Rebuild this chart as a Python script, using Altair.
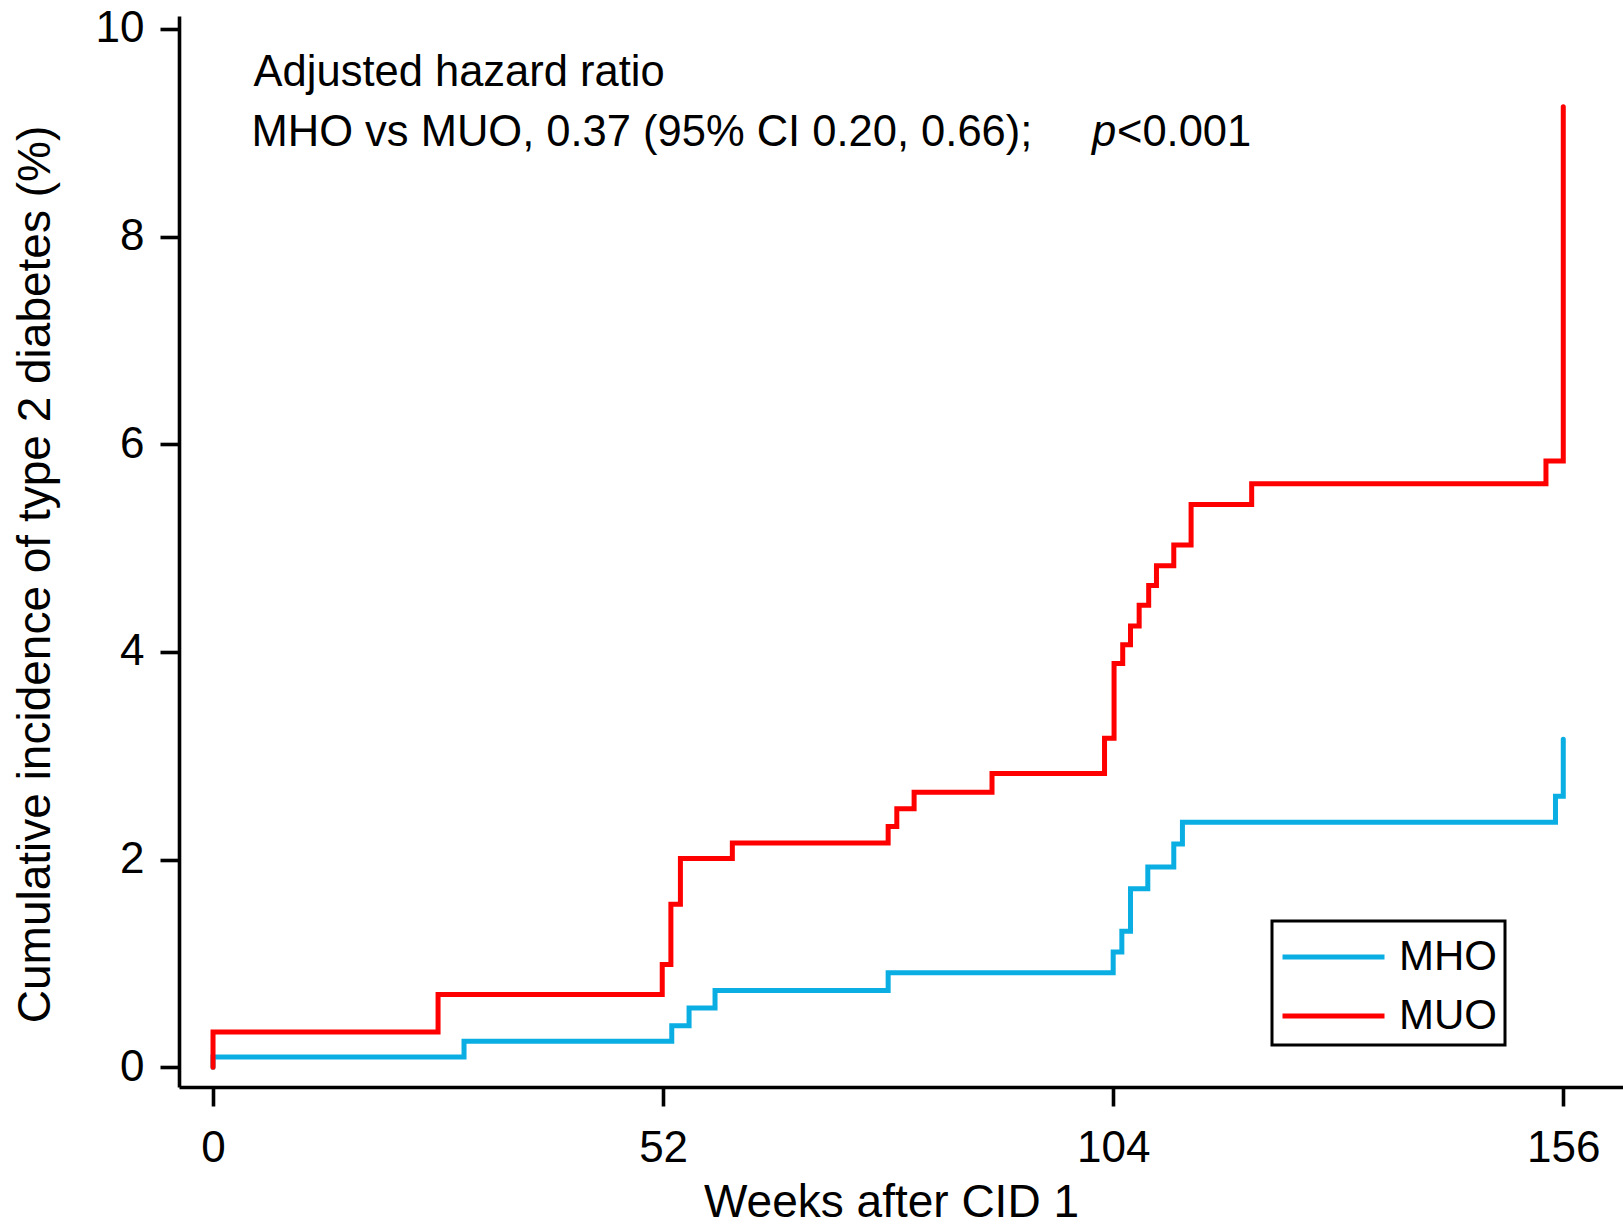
import altair as alt
import pandas as pd

# ---- data ----
groups = ["MHO", "MUO"]
mho_weeks = [0, 0, 29, 53, 55, 58, 78, 104, 105, 106, 108, 111, 112, 155.1, 156]
mho_vals = [0, 0.10, 0.25, 0.40, 0.57, 0.74, 0.91, 1.11, 1.31, 1.72, 1.93, 2.15, 2.36, 2.61, 3.16]
muo_weeks = [0, 0, 26, 51.9, 52.9, 54, 60, 78, 79, 81, 90, 103, 104.1, 105.1, 106, 107,
             108.1, 109, 111, 113, 120, 154, 156]
muo_vals = [0, 0.34, 0.70, 0.99, 1.57, 2.01, 2.16, 2.32, 2.49, 2.65, 2.83, 3.17, 3.89, 4.07,
            4.25, 4.45, 4.64, 4.83, 5.03, 5.42, 5.62, 5.84, 9.25]
x_ticks = [0, 52, 104, 156]
y_ticks = [0, 2, 4, 6, 8, 10]
colors = ["#0AAEE3", "#FF0000"]
x_title = "Weeks after CID 1"
y_title = "Cumulative incidence of type 2 diabetes (%)"
ann_line1 = "Adjusted hazard ratio"
ann_line2 = "MHO vs MUO, 0.37 (95% CI 0.20, 0.66);"
ann_p = "p"
ann_pval = "<0.001"

FONT = "Liberation Sans"

rows = []
for g, ws, vs in [("MHO", mho_weeks, mho_vals), ("MUO", muo_weeks, muo_vals)]:
    for i, (w, v) in enumerate(zip(ws, vs)):
        rows.append({"group": g, "week": w, "value": v, "idx": i})
df = pd.DataFrame(rows)

x_scale = alt.Scale(domain=[-3.93, 162.9], nice=False, zero=False)
y_scale = alt.Scale(domain=[-0.19, 10.125], nice=False, zero=False)

lines = alt.Chart(df).mark_line(
    interpolate="step-after", strokeWidth=5, strokeCap="round", clip=True
).encode(
    x=alt.X("week:Q", scale=x_scale,
            axis=alt.Axis(values=x_ticks, title=x_title, labelPadding=55,
                          labelBaseline="alphabetic", titleX=712, titleY=129,
                          titleBaseline="alphabetic", titleAlign="center")),
    y=alt.Y("value:Q", scale=y_scale,
            axis=alt.Axis(values=y_ticks, title=y_title, labelPadding=16,
                          titleX=-130, titleY=558, titleAngle=270,
                          titleBaseline="alphabetic", titleAlign="center")),
    color=alt.Color("group:N", scale=alt.Scale(domain=groups, range=colors),
                    legend=alt.Legend(title=None, orient="none", legendX=1093, legendY=905,
                                      symbolType="M-1,0H3", symbolSize=51 * 51,
                                      symbolStrokeWidth=5, labelFontSize=42,
                                      labelFont=FONT, padding=8, labelOffset=63,
                                      rowPadding=10, strokeColor="black")),
    order="idx:Q",
)

ann_df = pd.DataFrame({"t1": [ann_line1], "t2": [ann_line2], "tp": [ann_p], "tv": [ann_pval]})
base_txt = alt.Chart(ann_df)
t1 = base_txt.mark_text(align="left", baseline="alphabetic", fontSize=43.5, font=FONT).encode(
    x=alt.value(74.6), y=alt.value(70), text="t1:N")
t2 = base_txt.mark_text(align="left", baseline="alphabetic", fontSize=43.5, font=FONT).encode(
    x=alt.value(72.5), y=alt.value(130), text="t2:N")
tp = base_txt.mark_text(align="left", baseline="alphabetic", fontSize=43.5, font=FONT,
                        fontStyle="italic").encode(
    x=alt.value(913), y=alt.value(130), text="tp:N")
tv = base_txt.mark_text(align="left", baseline="alphabetic", fontSize=43.5, font=FONT).encode(
    x=alt.value(938), y=alt.value(130), text="tv:N")

chart = alt.layer(lines, t1, t2, tp, tv).properties(
    width=1444, height=1071,
    padding={"left": 179, "top": 16, "right": 0, "bottom": 138},
    autosize="none",
    background="white",
).configure_view(stroke=None).configure_axis(
    grid=False, domainColor="black", domainWidth=3.6, tickColor="black", tickWidth=3.6,
    tickSize=19, labelFont=FONT, labelFontSize=44, labelColor="black",
    titleFont=FONT, titleFontSize=46, titleColor="black", titleFontWeight="normal",
).configure_legend(strokeWidth=3, labelColor="black")

chart.save("out.html", embed_options={"renderer": "svg", "actions": False})
